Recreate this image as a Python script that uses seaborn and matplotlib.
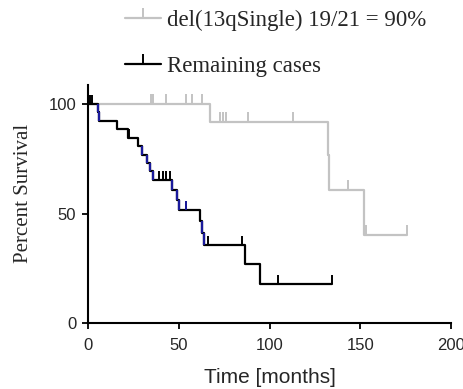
import matplotlib
matplotlib.use("Agg")
import matplotlib.pyplot as plt
import numpy as np
import pandas as pd
import seaborn as sns
from matplotlib.lines import Line2D

# Kaplan-Meier steps
del13_times = [0, 67.2, 132.0, 133.0, 152.0, 176.0]
del13_surv = [100, 91.7, 76.7, 60.8, 40.3, 40.3]
del13_censor = [34.7, 35.8, 43.0, 54.0, 57.3, 62.8, 73.0, 74.5, 76.0, 88.0,
                112.8, 143.4, 153.0, 176.0]

rest_times = [0, 5.3, 6.0, 15.8, 22.2, 27.7, 29.6, 32.3, 34.2, 36.0, 46.1, 48.9,
              50.3, 61.7, 62.6, 64.1, 86.5, 94.8, 134.3]
rest_surv = [100, 96.2, 92.3, 88.5, 84.6, 80.8, 76.9, 73.1, 69.2, 65.4, 60.6, 56.0,
             51.4, 46.5, 41.0, 35.6, 27.0, 17.8, 17.8]
rest_censor = [1.2, 2.4, 22.8, 39.1, 41.5, 43.0, 45.2, 53.8, 66.3, 84.7, 104.9, 134.3]

# drops / censor marks that show up in blue in the original
blue_drops = [5.3, 6.0, 29.6, 32.3, 34.2, 36.0, 46.1, 48.9, 50.3, 62.6, 64.1]
blue_censor = [53.8]

label_del13 = "del(13qSingle) 19/21 = 90%"
label_rest = "Remaining cases"
x_ticks = [0, 50, 100, 150, 200]
y_ticks = [0, 50, 100]

GRAY = "#c3c3c3"
BLACK = "#000000"
BLUE = "#1a1a9c"


def surv_at(times, surv, t):
    idx = np.searchsorted(times, t, side="right") - 1
    return surv[max(idx, 0)]


sns.set_style("white")
plt.rcParams["font.family"] = ["Liberation Sans", "DejaVu Sans"]

fig = plt.figure(figsize=(4.64, 3.89), dpi=100)
ax = fig.add_axes([88 / 464, 66 / 389, 363 / 464, 238 / 389])

df_del = pd.DataFrame({"t": del13_times, "s": del13_surv})
df_rest = pd.DataFrame({"t": rest_times, "s": rest_surv})
sns.lineplot(data=df_del, x="t", y="s", ax=ax, color=GRAY, lw=1.6,
             drawstyle="steps-post", estimator=None, sort=False)
sns.lineplot(data=df_rest, x="t", y="s", ax=ax, color=BLACK, lw=1.6,
             drawstyle="steps-post", estimator=None, sort=False)

# blue drops
for t in blue_drops:
    i = rest_times.index(t)
    ax.plot([t, t], [rest_surv[i - 1], rest_surv[i]], color=BLUE, lw=1.6,
            solid_capstyle="butt", zorder=4)

# censor marks (upward ticks)
ax.plot(del13_censor, [surv_at(del13_times, del13_surv, t) for t in del13_censor],
        ls="none", marker=2, ms=7, mew=1.4, color=GRAY)
ax.plot(rest_censor, [surv_at(rest_times, rest_surv, t) for t in rest_censor],
        ls="none", marker=2, ms=6.5, mew=1.4, color=BLACK)
ax.plot(blue_censor, [surv_at(rest_times, rest_surv, t) for t in blue_censor],
        ls="none", marker=2, ms=6.5, mew=1.4, color=BLUE, zorder=5)

ax.set_xlim(0, 200)
ax.set_ylim(0, 108.7)
ax.set_xticks(x_ticks)
ax.set_yticks(y_ticks)
ax.tick_params(axis="both", direction="out", length=4.5, width=1.3,
               labelsize=12, pad=4, bottom=True, left=True, color="black")
ax.tick_params(axis="x", pad=6)
for side in ["top", "right"]:
    ax.spines[side].set_visible(False)
for side in ["left", "bottom"]:
    ax.spines[side].set_linewidth(1.5)
    ax.spines[side].set_color("black")
ax.grid(False)

ax.set_xlabel("Time [months]", fontsize=15, labelpad=11)
ax.set_ylabel("Percent Survival", fontsize=15, family=["Liberation Serif"])
ax.yaxis.set_label_coords(-0.152, 0.544)

handles = [Line2D([], [], color=GRAY, lw=1.6, marker=2, ms=7, mew=1.4),
           Line2D([], [], color=BLACK, lw=1.6, marker=2, ms=7, mew=1.4)]
fig.legend(handles, [label_del13, label_rest], loc="upper left",
           bbox_to_anchor=(125 / 464, 1 - 10 / 389), frameon=False,
           prop={"family": "Liberation Serif", "size": 16.5},
           handlelength=1.55, handletextpad=0.3, labelspacing=1.1,
           borderpad=0, borderaxespad=0)

fig.savefig("out.png", dpi=100)
